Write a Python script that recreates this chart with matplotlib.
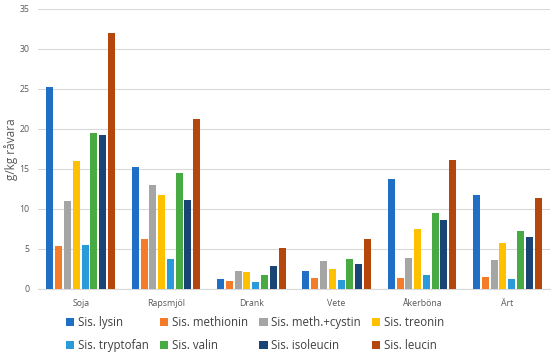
import matplotlib

matplotlib.use("Agg")
import matplotlib.pyplot as plt
import numpy as np

plt.rcParams.update({"font.family": ["Open Sans", "DejaVu Sans"]})

categories = ["Soja", "Rapsmjöl", "Drank", "Vete", "Åkerböna", "Ärt"]
series_names = ["Sis. lysin", "Sis. methionin", "Sis. meth.+cystin", "Sis. treonin",
                "Sis. tryptofan", "Sis. valin", "Sis. isoleucin", "Sis. leucin"]

lysin = [25.2, 15.3, 1.2, 2.3, 13.8, 11.8]
methionin = [5.4, 6.2, 1.0, 1.4, 1.4, 1.55]
meth_cystin = [11.0, 13.0, 2.2, 3.5, 3.9, 3.6]
treonin = [16.0, 11.8, 2.1, 2.45, 7.5, 5.7]
tryptofan = [5.5, 3.7, 0.9, 1.15, 1.75, 1.25]
valin = [19.5, 14.5, 1.8, 3.8, 9.45, 7.2]
isoleucin = [19.3, 11.1, 2.9, 3.1, 8.6, 6.45]
leucin = [32.0, 21.2, 5.1, 6.3, 16.1, 11.4]

series = [lysin, methionin, meth_cystin, treonin, tryptofan, valin, isoleucin, leucin]
colors = ["#1F6FC6", "#F47B2A", "#A5A5A5", "#FFC000",
          "#2A9BD8", "#47AA42", "#1B4476", "#B5470C"]

fig = plt.figure(figsize=(5.55, 3.58), dpi=100, facecolor="white")
ax = fig.add_axes([38 / 555, 1 - 289 / 358, 512 / 555, 280 / 358])

x = np.arange(len(categories))
step = 0.103
width = 0.082
handles = []
for i, (vals, name, c) in enumerate(zip(series, series_names, colors)):
    handles.append(ax.bar(x + (i - 3.5) * step, vals, width, color=c, label=name, zorder=3))

ax.set_xlim(-0.5, len(categories) - 0.5)
ax.set_ylim(0, 35)
ax.set_yticks(range(0, 36, 5))
ax.set_xticks(x)
ax.set_xticklabels(categories)
ax.tick_params(axis="both", length=0, labelsize=6.3, colors="#595959")
ax.tick_params(axis="x", pad=7)
ax.tick_params(axis="y", pad=6)
ax.grid(axis="y", color="#D9D9D9", lw=0.8, zorder=0)
for s in ["top", "right", "left"]:
    ax.spines[s].set_visible(False)
ax.spines["bottom"].set_color("#D9D9D9")
ax.set_ylabel("g/kg råvara", fontsize=8.5, color="#595959")
ax.yaxis.set_label_coords(-20 / 512, 0.5)

# legend is filled row by row in the reference
order = [0, 4, 1, 5, 2, 6, 3, 7]
fig.legend([handles[k] for k in order], [series_names[k] for k in order],
           loc="lower left", bbox_to_anchor=(60 / 555, 0.0), ncol=4, frameon=False,
           fontsize=8.3, labelcolor="#404040", handlelength=0.7, handleheight=0.7,
           handletextpad=0.3, columnspacing=1.0, borderaxespad=0.15, labelspacing=0.85)

fig.savefig("out.png", dpi=100)
